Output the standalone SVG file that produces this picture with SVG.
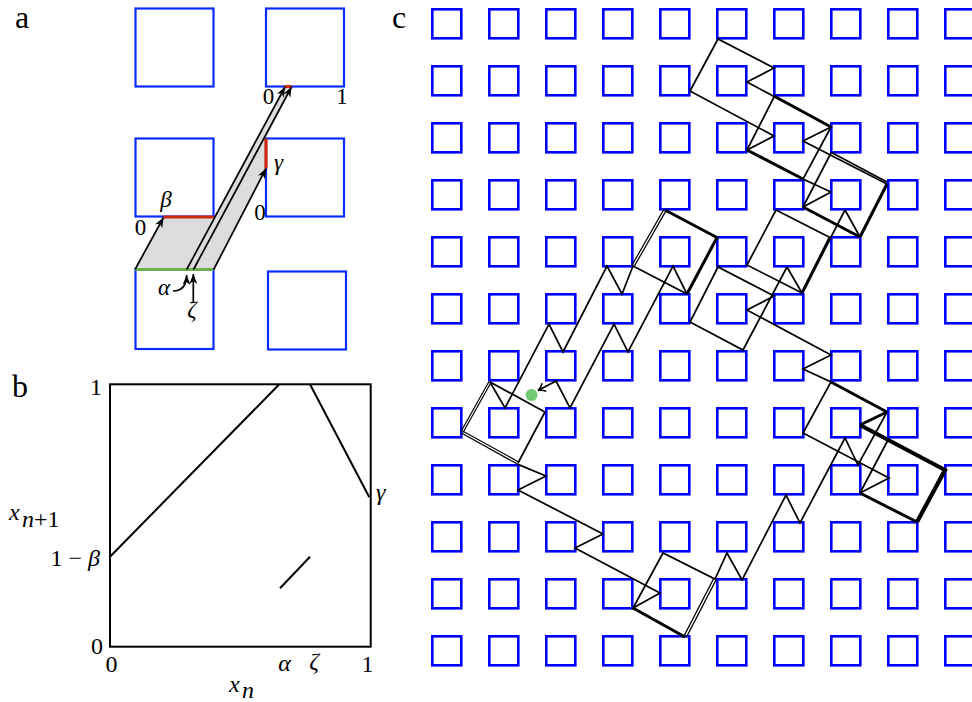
<svg xmlns="http://www.w3.org/2000/svg" width="972" height="702" viewBox="0 0 972 702">
<defs>
<style>
text{font-family:'Liberation Serif','Times New Roman',serif;fill:#000}
.lbl{font-size:32px}
.t{font-size:23px}
.tb{font-size:24px}
.it{font-style:italic}
.sqa{fill:none;stroke:#0a2cff;stroke-width:2.2}
.sqc{fill:none;stroke:#0000ff;stroke-width:2.6}
.tr{fill:none;stroke:#000;stroke-width:1.7;stroke-linejoin:miter;stroke-linecap:butt}
.tk{fill:none;stroke:#000;stroke-width:3}
.vtk{fill:none;stroke:#000;stroke-width:4.2}
.dl{fill:none;stroke:#000;stroke-width:1.2}
.ar{fill:none;stroke:#000;stroke-width:1.7}
.box{fill:none;stroke:#000;stroke-width:2}
</style>
<marker id="ah" markerUnits="userSpaceOnUse" markerWidth="12" markerHeight="10" refX="10" refY="4" orient="auto">
<path d="M0,0 L10,4 L0,8 L3,4 z" fill="#000"/>
</marker>
<marker id="ah2" markerUnits="userSpaceOnUse" markerWidth="12" markerHeight="12" refX="8" refY="5" orient="auto">
<path d="M1,0.5 Q4,4 8,5 Q4,6 1,9.5" fill="none" stroke="#000" stroke-width="1.5"/>
</marker>
</defs>
<rect width="972" height="702" fill="#fff"/>

<!-- Panel a -->
<g id="panel-a" font-family="Liberation Serif">
<text class="lbl" x="15" y="28" font-size="31">a</text>
<polygon points="135,269.5 163.5,217 213.7,217 285,86.5 291.5,86.5 266,138.5 266,168.5 213.7,269.5" fill="#dcdcdc"/>
<g id="a-squares">
<rect id="a-sq-tl" class="sqa" x="135.5" y="8.5" width="78" height="78"/>
<rect id="a-sq-tr" class="sqa" x="266" y="8.5" width="78" height="78"/>
<rect id="a-sq-ml" class="sqa" x="135.5" y="138.5" width="78" height="78"/>
<rect id="a-sq-mr" class="sqa" x="266" y="138.5" width="78" height="78"/>
<rect id="a-sq-bl" class="sqa" x="135.5" y="269.5" width="78" height="79.5"/>
<rect id="a-sq-br" class="sqa" x="268" y="271.5" width="78" height="78"/>
</g>
<line x1="135" y1="269.5" x2="213.7" y2="269.5" stroke="#6ab04c" stroke-width="3.2"/>
<line x1="163.5" y1="217" x2="213.7" y2="217" stroke="#cc2a0a" stroke-width="3.2"/>
<line x1="266" y1="138.5" x2="266" y2="168.5" stroke="#cc2a0a" stroke-width="3.2"/>
<line x1="284.5" y1="86.5" x2="291.5" y2="86.5" stroke="#cc2a0a" stroke-width="3.2"/>
<g id="a-arrows">
<line class="ar" x1="135" y1="269.5" x2="163.5" y2="217.5" marker-end="url(#ah)"/>
<line class="ar" x1="213.7" y1="269.5" x2="266" y2="168.5" marker-end="url(#ah)"/>
<line class="ar" x1="186.7" y1="269.5" x2="285" y2="87" marker-end="url(#ah)"/>
<line class="ar" x1="193.5" y1="269.5" x2="291.5" y2="87" marker-end="url(#ah)"/>
<path class="ar" d="M173,291 C182,291 186.5,286 186.7,275" stroke-width="1.3" marker-end="url(#ah)"/>
<line class="ar" x1="193.3" y1="303" x2="193.3" y2="274" stroke-width="1.3" marker-end="url(#ah)"/>
</g>
<text class="t" x="140.5" y="235" text-anchor="middle">0</text>
<text class="t it" x="166" y="207" text-anchor="middle">β</text>
<text class="t" x="260" y="220" text-anchor="middle">0</text>
<text class="t it" x="278.5" y="170" text-anchor="middle">γ</text>
<text class="t" x="268.5" y="104" text-anchor="middle">0</text>
<text class="t" x="342" y="104" text-anchor="middle">1</text>
<text class="t it" x="164" y="295" text-anchor="middle">α</text>
<text class="t it" x="192" y="317" text-anchor="middle">ζ</text>
</g>

<!-- Panel b -->
<g id="panel-b" font-family="Liberation Serif">
<text class="lbl" x="12" y="397">b</text>
<rect class="box" x="110" y="384.3" width="260.7" height="262.4"/>
<g id="b-map">
<line class="box" x1="110" y1="556.7" x2="279.3" y2="384.3"/>
<line class="box" x1="310" y1="384.3" x2="369.3" y2="497.3"/>
<line class="box" x1="280" y1="588.3" x2="310" y2="556.7"/>
</g>
<text class="tb" x="102" y="395" text-anchor="end">1</text>
<text class="tb" x="103" y="654" text-anchor="end">0</text>
<text class="tb" x="111.5" y="672" text-anchor="middle">0</text>
<text class="tb it" x="284.5" y="671" text-anchor="middle">α</text>
<text class="tb it" x="314" y="669" text-anchor="middle">ζ</text>
<text class="tb" x="367.5" y="672" text-anchor="middle">1</text>
<text class="tb it" x="376" y="500">γ</text>
<text class="tb" x="100" y="566" text-anchor="end">1 − <tspan class="it">β</tspan></text>
<text class="tb it" x="229" y="692" font-size="26">x</text>
<text class="tb it" x="242" y="697.5" font-size="18">n</text>
<text class="tb it" x="9" y="520" font-size="26">x</text>
<text class="tb" x="22" y="527" font-size="18"><tspan class="it">n</tspan>+1</text>
</g>

<!-- Panel c -->
<g id="panel-c">
<text class="lbl" x="392" y="28" font-size="31">c</text>
<g id="c-squares">
<rect class="sqc" x="432.3" y="9.3" width="29" height="29"/><rect class="sqc" x="489.3" y="9.3" width="29" height="29"/><rect class="sqc" x="546.3" y="9.3" width="29" height="29"/><rect class="sqc" x="603.3" y="9.3" width="29" height="29"/><rect class="sqc" x="660.3" y="9.3" width="29" height="29"/><rect class="sqc" x="717.3" y="9.3" width="29" height="29"/><rect class="sqc" x="774.3" y="9.3" width="29" height="29"/><rect class="sqc" x="831.3" y="9.3" width="29" height="29"/><rect class="sqc" x="888.3" y="9.3" width="29" height="29"/><rect class="sqc" x="945.3" y="9.3" width="29" height="29"/>
<rect class="sqc" x="432.3" y="66.3" width="29" height="29"/><rect class="sqc" x="489.3" y="66.3" width="29" height="29"/><rect class="sqc" x="546.3" y="66.3" width="29" height="29"/><rect class="sqc" x="603.3" y="66.3" width="29" height="29"/><rect class="sqc" x="660.3" y="66.3" width="29" height="29"/><rect class="sqc" x="717.3" y="66.3" width="29" height="29"/><rect class="sqc" x="774.3" y="66.3" width="29" height="29"/><rect class="sqc" x="831.3" y="66.3" width="29" height="29"/><rect class="sqc" x="888.3" y="66.3" width="29" height="29"/><rect class="sqc" x="945.3" y="66.3" width="29" height="29"/>
<rect class="sqc" x="432.3" y="123.3" width="29" height="29"/><rect class="sqc" x="489.3" y="123.3" width="29" height="29"/><rect class="sqc" x="546.3" y="123.3" width="29" height="29"/><rect class="sqc" x="603.3" y="123.3" width="29" height="29"/><rect class="sqc" x="660.3" y="123.3" width="29" height="29"/><rect class="sqc" x="717.3" y="123.3" width="29" height="29"/><rect class="sqc" x="774.3" y="123.3" width="29" height="29"/><rect class="sqc" x="831.3" y="123.3" width="29" height="29"/><rect class="sqc" x="888.3" y="123.3" width="29" height="29"/><rect class="sqc" x="945.3" y="123.3" width="29" height="29"/>
<rect class="sqc" x="432.3" y="180.3" width="29" height="29"/><rect class="sqc" x="489.3" y="180.3" width="29" height="29"/><rect class="sqc" x="546.3" y="180.3" width="29" height="29"/><rect class="sqc" x="603.3" y="180.3" width="29" height="29"/><rect class="sqc" x="660.3" y="180.3" width="29" height="29"/><rect class="sqc" x="717.3" y="180.3" width="29" height="29"/><rect class="sqc" x="774.3" y="180.3" width="29" height="29"/><rect class="sqc" x="831.3" y="180.3" width="29" height="29"/><rect class="sqc" x="888.3" y="180.3" width="29" height="29"/><rect class="sqc" x="945.3" y="180.3" width="29" height="29"/>
<rect class="sqc" x="432.3" y="237.3" width="29" height="29"/><rect class="sqc" x="489.3" y="237.3" width="29" height="29"/><rect class="sqc" x="546.3" y="237.3" width="29" height="29"/><rect class="sqc" x="603.3" y="237.3" width="29" height="29"/><rect class="sqc" x="660.3" y="237.3" width="29" height="29"/><rect class="sqc" x="717.3" y="237.3" width="29" height="29"/><rect class="sqc" x="774.3" y="237.3" width="29" height="29"/><rect class="sqc" x="831.3" y="237.3" width="29" height="29"/><rect class="sqc" x="888.3" y="237.3" width="29" height="29"/><rect class="sqc" x="945.3" y="237.3" width="29" height="29"/>
<rect class="sqc" x="432.3" y="294.3" width="29" height="29"/><rect class="sqc" x="489.3" y="294.3" width="29" height="29"/><rect class="sqc" x="546.3" y="294.3" width="29" height="29"/><rect class="sqc" x="603.3" y="294.3" width="29" height="29"/><rect class="sqc" x="660.3" y="294.3" width="29" height="29"/><rect class="sqc" x="717.3" y="294.3" width="29" height="29"/><rect class="sqc" x="774.3" y="294.3" width="29" height="29"/><rect class="sqc" x="831.3" y="294.3" width="29" height="29"/><rect class="sqc" x="888.3" y="294.3" width="29" height="29"/><rect class="sqc" x="945.3" y="294.3" width="29" height="29"/>
<rect class="sqc" x="432.3" y="351.3" width="29" height="29"/><rect class="sqc" x="489.3" y="351.3" width="29" height="29"/><rect class="sqc" x="546.3" y="351.3" width="29" height="29"/><rect class="sqc" x="603.3" y="351.3" width="29" height="29"/><rect class="sqc" x="660.3" y="351.3" width="29" height="29"/><rect class="sqc" x="717.3" y="351.3" width="29" height="29"/><rect class="sqc" x="774.3" y="351.3" width="29" height="29"/><rect class="sqc" x="831.3" y="351.3" width="29" height="29"/><rect class="sqc" x="888.3" y="351.3" width="29" height="29"/><rect class="sqc" x="945.3" y="351.3" width="29" height="29"/>
<rect class="sqc" x="432.3" y="408.3" width="29" height="29"/><rect class="sqc" x="489.3" y="408.3" width="29" height="29"/><rect class="sqc" x="546.3" y="408.3" width="29" height="29"/><rect class="sqc" x="603.3" y="408.3" width="29" height="29"/><rect class="sqc" x="660.3" y="408.3" width="29" height="29"/><rect class="sqc" x="717.3" y="408.3" width="29" height="29"/><rect class="sqc" x="774.3" y="408.3" width="29" height="29"/><rect class="sqc" x="831.3" y="408.3" width="29" height="29"/><rect class="sqc" x="888.3" y="408.3" width="29" height="29"/><rect class="sqc" x="945.3" y="408.3" width="29" height="29"/>
<rect class="sqc" x="432.3" y="465.3" width="29" height="29"/><rect class="sqc" x="489.3" y="465.3" width="29" height="29"/><rect class="sqc" x="546.3" y="465.3" width="29" height="29"/><rect class="sqc" x="603.3" y="465.3" width="29" height="29"/><rect class="sqc" x="660.3" y="465.3" width="29" height="29"/><rect class="sqc" x="717.3" y="465.3" width="29" height="29"/><rect class="sqc" x="774.3" y="465.3" width="29" height="29"/><rect class="sqc" x="831.3" y="465.3" width="29" height="29"/><rect class="sqc" x="888.3" y="465.3" width="29" height="29"/><rect class="sqc" x="945.3" y="465.3" width="29" height="29"/>
<rect class="sqc" x="432.3" y="522.3" width="29" height="29"/><rect class="sqc" x="489.3" y="522.3" width="29" height="29"/><rect class="sqc" x="546.3" y="522.3" width="29" height="29"/><rect class="sqc" x="603.3" y="522.3" width="29" height="29"/><rect class="sqc" x="660.3" y="522.3" width="29" height="29"/><rect class="sqc" x="717.3" y="522.3" width="29" height="29"/><rect class="sqc" x="774.3" y="522.3" width="29" height="29"/><rect class="sqc" x="831.3" y="522.3" width="29" height="29"/><rect class="sqc" x="888.3" y="522.3" width="29" height="29"/><rect class="sqc" x="945.3" y="522.3" width="29" height="29"/>
<rect class="sqc" x="432.3" y="579.3" width="29" height="29"/><rect class="sqc" x="489.3" y="579.3" width="29" height="29"/><rect class="sqc" x="546.3" y="579.3" width="29" height="29"/><rect class="sqc" x="603.3" y="579.3" width="29" height="29"/><rect class="sqc" x="660.3" y="579.3" width="29" height="29"/><rect class="sqc" x="717.3" y="579.3" width="29" height="29"/><rect class="sqc" x="774.3" y="579.3" width="29" height="29"/><rect class="sqc" x="831.3" y="579.3" width="29" height="29"/><rect class="sqc" x="888.3" y="579.3" width="29" height="29"/><rect class="sqc" x="945.3" y="579.3" width="29" height="29"/>
<rect class="sqc" x="432.3" y="636.3" width="29" height="29"/><rect class="sqc" x="489.3" y="636.3" width="29" height="29"/><rect class="sqc" x="546.3" y="636.3" width="29" height="29"/><rect class="sqc" x="603.3" y="636.3" width="29" height="29"/><rect class="sqc" x="660.3" y="636.3" width="29" height="29"/><rect class="sqc" x="717.3" y="636.3" width="29" height="29"/><rect class="sqc" x="774.3" y="636.3" width="29" height="29"/><rect class="sqc" x="831.3" y="636.3" width="29" height="29"/><rect class="sqc" x="888.3" y="636.3" width="29" height="29"/><rect class="sqc" x="945.3" y="636.3" width="29" height="29"/>
</g>
<g id="c-trajectory">
<path class="tr" d="M690,91 L718,39 L774,68 L747,82 L831,127 L803,141 L887,184"/>
<path class="tr" d="M690,91 L774,136 L747,150"/>
<path class="tr" d="M774,97 L747,150"/>
<path class="tr" d="M831,127 L803,179 L831,192 L803,207"/>
<path class="tr" d="M831,153 L803,207"/>
<path class="tr" d="M831.5,152.5 L887,182" stroke-width="1.3"/>
<path class="tr" d="M845,210 L860,237"/>
<path class="tr" d="M776,210 L830,237.5"/>
<path class="tr" d="M776,210 L747,265 L802,293"/>
<path class="tr" d="M787,267 L802,293"/>
<path class="tr" d="M845,210 L802,293"/>
<path class="tk" d="M830,237.5 L802,293" stroke-width="2.8"/>
<path class="tk" d="M774,96 L831,127" stroke-width="2.8"/>
<path class="tk" d="M747,150 L803,179"/>
<path class="tk" d="M803,207 L860,237"/>
<path class="tk" d="M887,184 L860,237"/>
<path class="tk" d="M665,210 L717,237.5 L687,294"/>
<path class="dl" d="M666.1,210.6 L634.1,266.6 M663.9,209.4 L631.9,265.4"/>
<path class="tr" d="M633,266 L687,294"/>
<path class="tr" d="M633,266 L622,294 L607,266 L563,352 L549,324 L505,408 L490,382"/>
<path class="tr" d="M687,294 L673,266 L628,352 L614,324 L570,408 L556,381 L538,390.5" marker-end="url(#ah2)"/>
<path class="dl" d="M491,382.5 L463,432.5 M489,381.5 L461,431.5" stroke-width="1.4"/>
<path class="dl" d="M461.4,433.1 L517.4,464.1 M462.6,430.9 L518.6,461.9"/>
<path class="tr" d="M518,463 L545,412 L490,382"/>
<path class="tr" d="M517.4,464.1 L546,476 L518,490 L603,534 L575,548 L660,593 L633,608 L663,553 L715,579 L727,553 L742,580 L786,495 L800,523 L845,438 L858,465 L887,412"/>
<path class="tk" d="M633,608 L685,637"/>
<path class="dl" d="M686.2,637.6 L716.2,579.6 M683.8,636.4 L713.8,578.4"/>
<path class="tr" d="M690,322 L718,267 L774,296 L747,310 L831,355 L803,369 L831,382 L803,433 L889,478 L860,493"/>
<path class="tr" d="M690,322 L743,350 L787,267"/>
<path class="tk" d="M831,382 L887,412"/>
<path class="tk" d="M860,493 L917,522"/>
<path class="vtk" d="M917,522 L945,470 L860,425"/>
<path class="tk" d="M860,425 L887,412"/>
<path class="tr" d="M888,440 L860,493"/>
</g>
<circle id="c-start" cx="531.5" cy="395" r="6" fill="#5cc15c" fill-opacity="0.85"/>
</g>
</svg>
